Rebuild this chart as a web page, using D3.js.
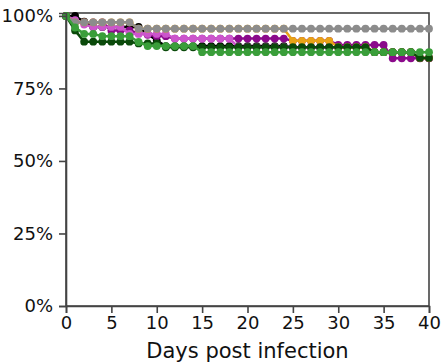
<!DOCTYPE html>
<html>
<head>
<meta charset="utf-8">
<script src="https://cdn.jsdelivr.net/npm/d3@7"></script>
<style>
  html, body { margin: 0; padding: 0; background: #fff; }
  svg { display: block; font-family: "DejaVu Sans", sans-serif; }
</style>
</head>
<body>
<svg id="chart" width="444" height="364"></svg>
<script>
// Survival (%) per group, one value per day from day 0 to day 40
const days = d3.range(0, 41);

const blackSurv = [100, 100, 98, 96.2, 96.2, 96.2, 96.2, 96.2, 96.2, 93.8, 91.5,
  89.6, 89.6, 89.6, 89.6, 89.6, 89.6, 89.6, 89.6, 89.6, 89.6, 89.6, 89.6, 89.6, 89.6,
  89.2, 89.2, 89.2, 89.2, 89.2, 89.2, 89.2, 89.2, 89.2, 87.5, 87.5, 87.5, 87.5, 87.5, 85.5, 85.5];
const purpleSurv = [100, 98, 97.8, 97.8, 97.8, 95, 95, 95, 94, 93.5, 93, 93,
  92.2, 92.2, 92.2, 92.2, 92.2, 92.2, 92.2, 92.2, 92.2, 92.2, 92.2, 92.2, 92.2,
  91.4, 91.4, 91.4, 91.4, 91.4, 90, 90, 90, 90, 90, 90, 85.4, 85.4, 85.4, 85.4, 85.4];
const pinkSurv = [100, 98.5, 97, 96.2, 96.2, 96.2, 96.2, 93.8, 93.8, 93.8, 93.8, 93.8,
  92.2, 92.2, 92.2, 92.2, 92.2, 92.2, 92.2, 89.2, 89.2, 89.2, 89.2, 89.2, 89.2,
  89.2, 89.2, 89.2, 89.2, 89.2, 89.2, 89.2, 89.2, 89.2, 87.5, 87.5, 87.5, 87.5, 87.5, 85.5, 85.5];
const orangeSurv = [100, 97.8, 97.8, 97.8, 97.8, 97.8, 97.8, 97.8,
  95.6, 95.6, 95.6, 95.6, 95.6, 95.6, 95.6, 95.6, 95.6, 95.6, 95.6, 95.6, 95.6, 95.6, 95.6, 95.6, 95.6,
  91.4, 91.4, 91.4, 91.4, 91.4, 89.2, 89.2, 89.2, 89.2, 87.5, 87.5, 87.5, 87.5, 87.5, 85.5, 85.5];
const graySurv = [100, 97.8, 97.8, 97.8, 97.8, 97.8, 97.8, 97.8,
  95.6, 95.6, 95.6, 95.6, 95.6, 95.6, 95.6, 95.6, 95.6, 95.6, 95.6, 95.6, 95.6, 95.6, 95.6, 95.6, 95.6,
  95.6, 95.6, 95.6, 95.6, 95.6, 95.6, 95.6, 95.6, 95.6, 95.6, 95.6, 95.6, 95.6, 95.6, 95.6, 95.6];
const darkGreenSurv = [100, 95, 91.1, 91.1, 91.1, 91.1, 91.1, 91.1, 90.5, 90.5, 90.5,
  89.2, 89.2, 89.2, 89.2, 89.2, 89.2, 89.2, 89.2, 89.2, 89.2, 89.2, 89.2, 89.2, 89.2,
  89.2, 89.2, 89.2, 89.2, 89.2, 89.2, 89.2, 89.2, 89.2, 87.5, 87.5, 87.5, 87.5, 87.5, 85.5, 85.5];
const greenSurv = [100, 96, 93.8, 93.8, 93, 93, 93, 93, 91, 89.6, 89.6, 89.6, 89.6, 89.6, 89.6,
  87.5, 87.5, 87.5, 87.5, 87.5, 87.5, 87.5, 87.5, 87.5, 87.5, 87.5, 87.5, 87.5, 87.5, 87.5,
  87.5, 87.5, 87.5, 87.5, 87.5, 87.5, 87.5, 87.5, 87.5, 87.5, 87.5];

// Drawing order, bottom to top
const groups = [
  { values: blackSurv, color: "#000000" },
  { values: purpleSurv, color: "#8b0a8b" },
  { values: pinkSurv, color: "#cc55cc" },
  { values: orangeSurv, color: "#e8a317" },
  { values: graySurv, color: "#8c8c8c" },
  { values: darkGreenSurv, color: "#0b4a0b" },
  { values: greenSurv, color: "#3a9e3a" }
];

const xTicks = [0, 5, 10, 15, 20, 25, 30, 35, 40];
const yTicks = [0, 25, 50, 75, 100];

const svg = d3.select("#chart");
const plotLeft = 66, plotRight = 429, plotTop = 13, plotBottom = 306;

const x = d3.scaleLinear().domain([0, 40]).range([plotLeft, plotRight]);
const y = d3.scaleLinear().domain([0, 101]).range([plotBottom, plotTop]);

// plot frame
svg.append("rect")
  .attr("x", plotLeft).attr("y", plotTop)
  .attr("width", plotRight - plotLeft).attr("height", plotBottom - plotTop)
  .attr("fill", "none").attr("stroke", "#444").attr("stroke-width", 1.6);

const line = d3.line().x((d, i) => x(days[i])).y(d => y(d));

groups.forEach(g => {
  const layer = svg.append("g");
  layer.append("path")
    .datum(g.values)
    .attr("d", line)
    .attr("fill", "none")
    .attr("stroke", g.color)
    .attr("stroke-width", 2.5);
  layer.selectAll("circle")
    .data(g.values)
    .join("circle")
    .attr("cx", (d, i) => x(days[i]))
    .attr("cy", d => y(d))
    .attr("r", 3.9)
    .attr("fill", g.color);
});

// axes
const xAxis = svg.append("g")
  .attr("transform", `translate(0,${plotBottom})`)
  .call(d3.axisBottom(x).tickValues(xTicks).tickSize(7).tickPadding(3));
const yAxis = svg.append("g")
  .attr("transform", `translate(${plotLeft},0)`)
  .call(d3.axisLeft(y).tickValues(yTicks).tickFormat(d => d + "%").tickSize(7).tickPadding(6));

[xAxis, yAxis].forEach(a => {
  a.select(".domain").attr("stroke", "#444").attr("stroke-width", 1.6);
  a.selectAll(".tick line").attr("stroke", "#444").attr("stroke-width", 1.6);
  a.selectAll(".tick text")
    .attr("fill", "#111")
    .style("font-size", "18px")
    .style("font-family", "'DejaVu Sans', sans-serif");
});

svg.append("text")
  .attr("x", (plotLeft + plotRight) / 2)
  .attr("y", 358)
  .attr("text-anchor", "middle")
  .attr("fill", "#111")
  .style("font-size", "21px")
  .text("Days post infection");
</script>
</body>
</html>
